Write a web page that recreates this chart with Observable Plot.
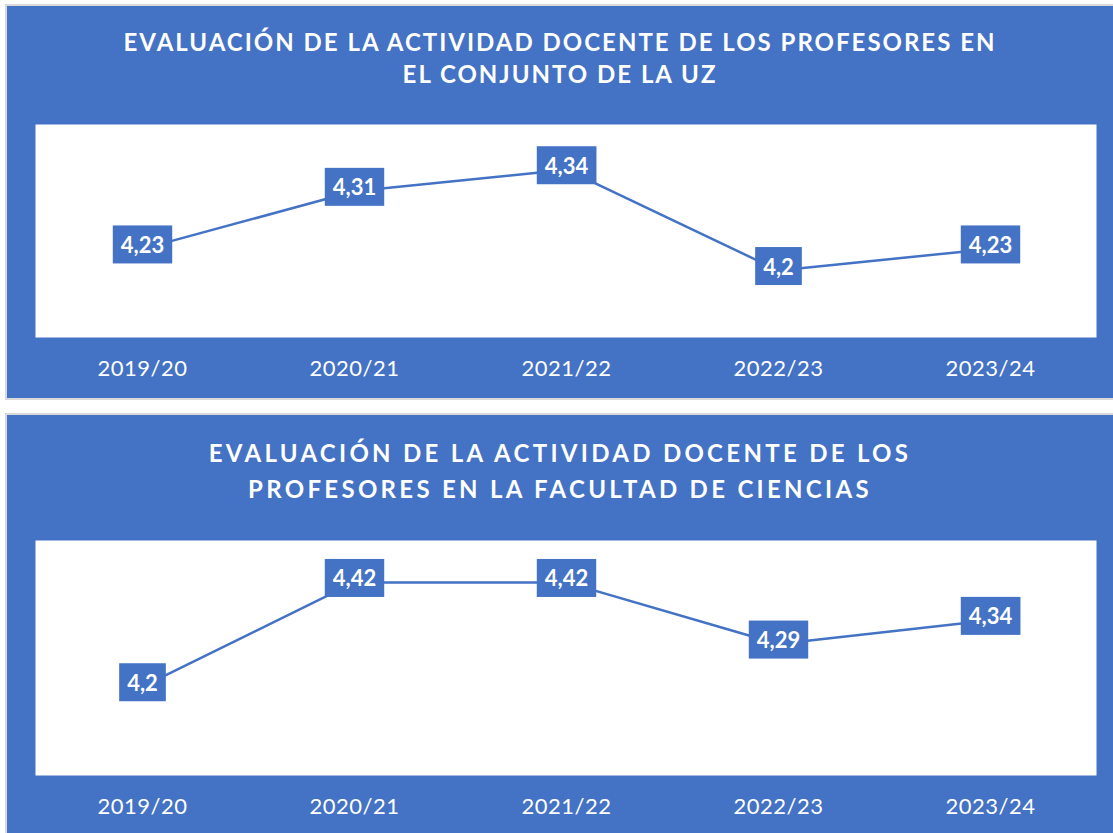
<!DOCTYPE html>
<html><head><meta charset="utf-8">
<script src="https://cdn.jsdelivr.net/npm/d3@7"></script>
<script src="https://cdn.jsdelivr.net/npm/@observablehq/plot@0.6"></script>
<style>
html,body{margin:0;padding:0;background:#fff;overflow:hidden;width:1113px;height:833px;}
.panel{position:absolute;left:5px;width:1106px;background:#4472C4;border-left:2px solid #d9d9d9;border-top:2px solid #d9d9d9;border-bottom:2px solid #d9d9d9;}
.title{color:#fff;font-family:Lato,"Open Sans",sans-serif;font-weight:700;font-size:24px;text-align:center;box-sizing:border-box;padding-top:20px;white-space:nowrap;}
.panel svg{display:block;}
.panel svg g[aria-label="x-axis tick label"] text{letter-spacing:0.5px;}
</style></head><body>
<div id="p1" class="panel" style="top:4px;height:392px">
  <div class="title" style="height:104px;line-height:32px;letter-spacing:2px">EVALUACIÓN DE LA ACTIVIDAD DOCENTE DE LOS PROFESORES EN<br>EL CONJUNTO DE LA UZ</div>
  <div class="chart"></div>
</div>
<div id="p2" class="panel" style="top:413px;height:420px">
  <div class="title" style="height:110px;line-height:36px;letter-spacing:3.3px">EVALUACIÓN DE LA ACTIVIDAD DOCENTE DE LOS<br>PROFESORES EN LA FACULTAD DE CIENCIAS</div>
  <div class="chart"></div>
</div>
<script>
const seasons = ["2019/20", "2020/21", "2021/22", "2022/23", "2023/24"];
const uzValues = [4.23, 4.31, 4.34, 4.2, 4.23];
const cienciasValues = [4.2, 4.42, 4.42, 4.29, 4.34];

const BLUE = "#4472C4";
const NS = "http://www.w3.org/2000/svg";

function makeChart(container, values, opts) {
  const data = seasons.map((s, i) => ({season: s, value: values[i], label: String(values[i]).replace(".", ",")}));
  const svg = Plot.plot({
    width: 1106,
    height: opts.height,
    marginLeft: 28,
    marginRight: 17,
    marginTop: opts.marginTop,
    marginBottom: opts.marginBottom,
    style: {fontFamily: "Lato, 'Open Sans', sans-serif", fontSize: "22px", color: "#fff", background: "transparent"},
    x: {type: "point", domain: seasons, padding: 0.5, label: null},
    y: {domain: opts.yDomain, range: opts.yRange, axis: null},
    marks: [
      Plot.frame({fill: "#fff", stroke: "none"}),
      Plot.axisX({tickSize: 0, tickPadding: 23, fontSize: 22, label: null}),
      Plot.line(data, {x: "season", y: "value", stroke: BLUE, strokeWidth: 2.5}),
      Plot.text(data, {x: "season", y: "value", text: "label", fill: "#fff", fontWeight: "bold", fontSize: 22, dy: -3})
    ]
  });
  container.appendChild(svg);
  // label boxes behind the data labels
  const textG = svg.querySelector('g[aria-label="text"]');
  const rectG = document.createElementNS(NS, "g");
  if (textG.getAttribute("transform")) rectG.setAttribute("transform", textG.getAttribute("transform"));
  textG.parentNode.insertBefore(rectG, textG);
  textG.querySelectorAll("text").forEach(t => {
    const b = t.getBBox();
    const r = document.createElementNS(NS, "rect");
    if (t.getAttribute("transform")) r.setAttribute("transform", t.getAttribute("transform"));
    const cy = b.y + b.height / 2;
    r.setAttribute("x", b.x - 8);
    r.setAttribute("y", cy - 19);
    r.setAttribute("width", b.width + 16);
    r.setAttribute("height", 38);
    r.setAttribute("fill", BLUE);
    rectG.appendChild(r);
  });
}

makeChart(document.querySelector("#p1 .chart"), uzValues,
  {height: 288, marginTop: 14, marginBottom: 61, yDomain: [4.1, 4.4], yRange: [232, 16]});
makeChart(document.querySelector("#p2 .chart"), cienciasValues,
  {height: 308, marginTop: 15, marginBottom: 58, yDomain: [4.0, 4.5], yRange: [256, 19]});
</script>
</body></html>
